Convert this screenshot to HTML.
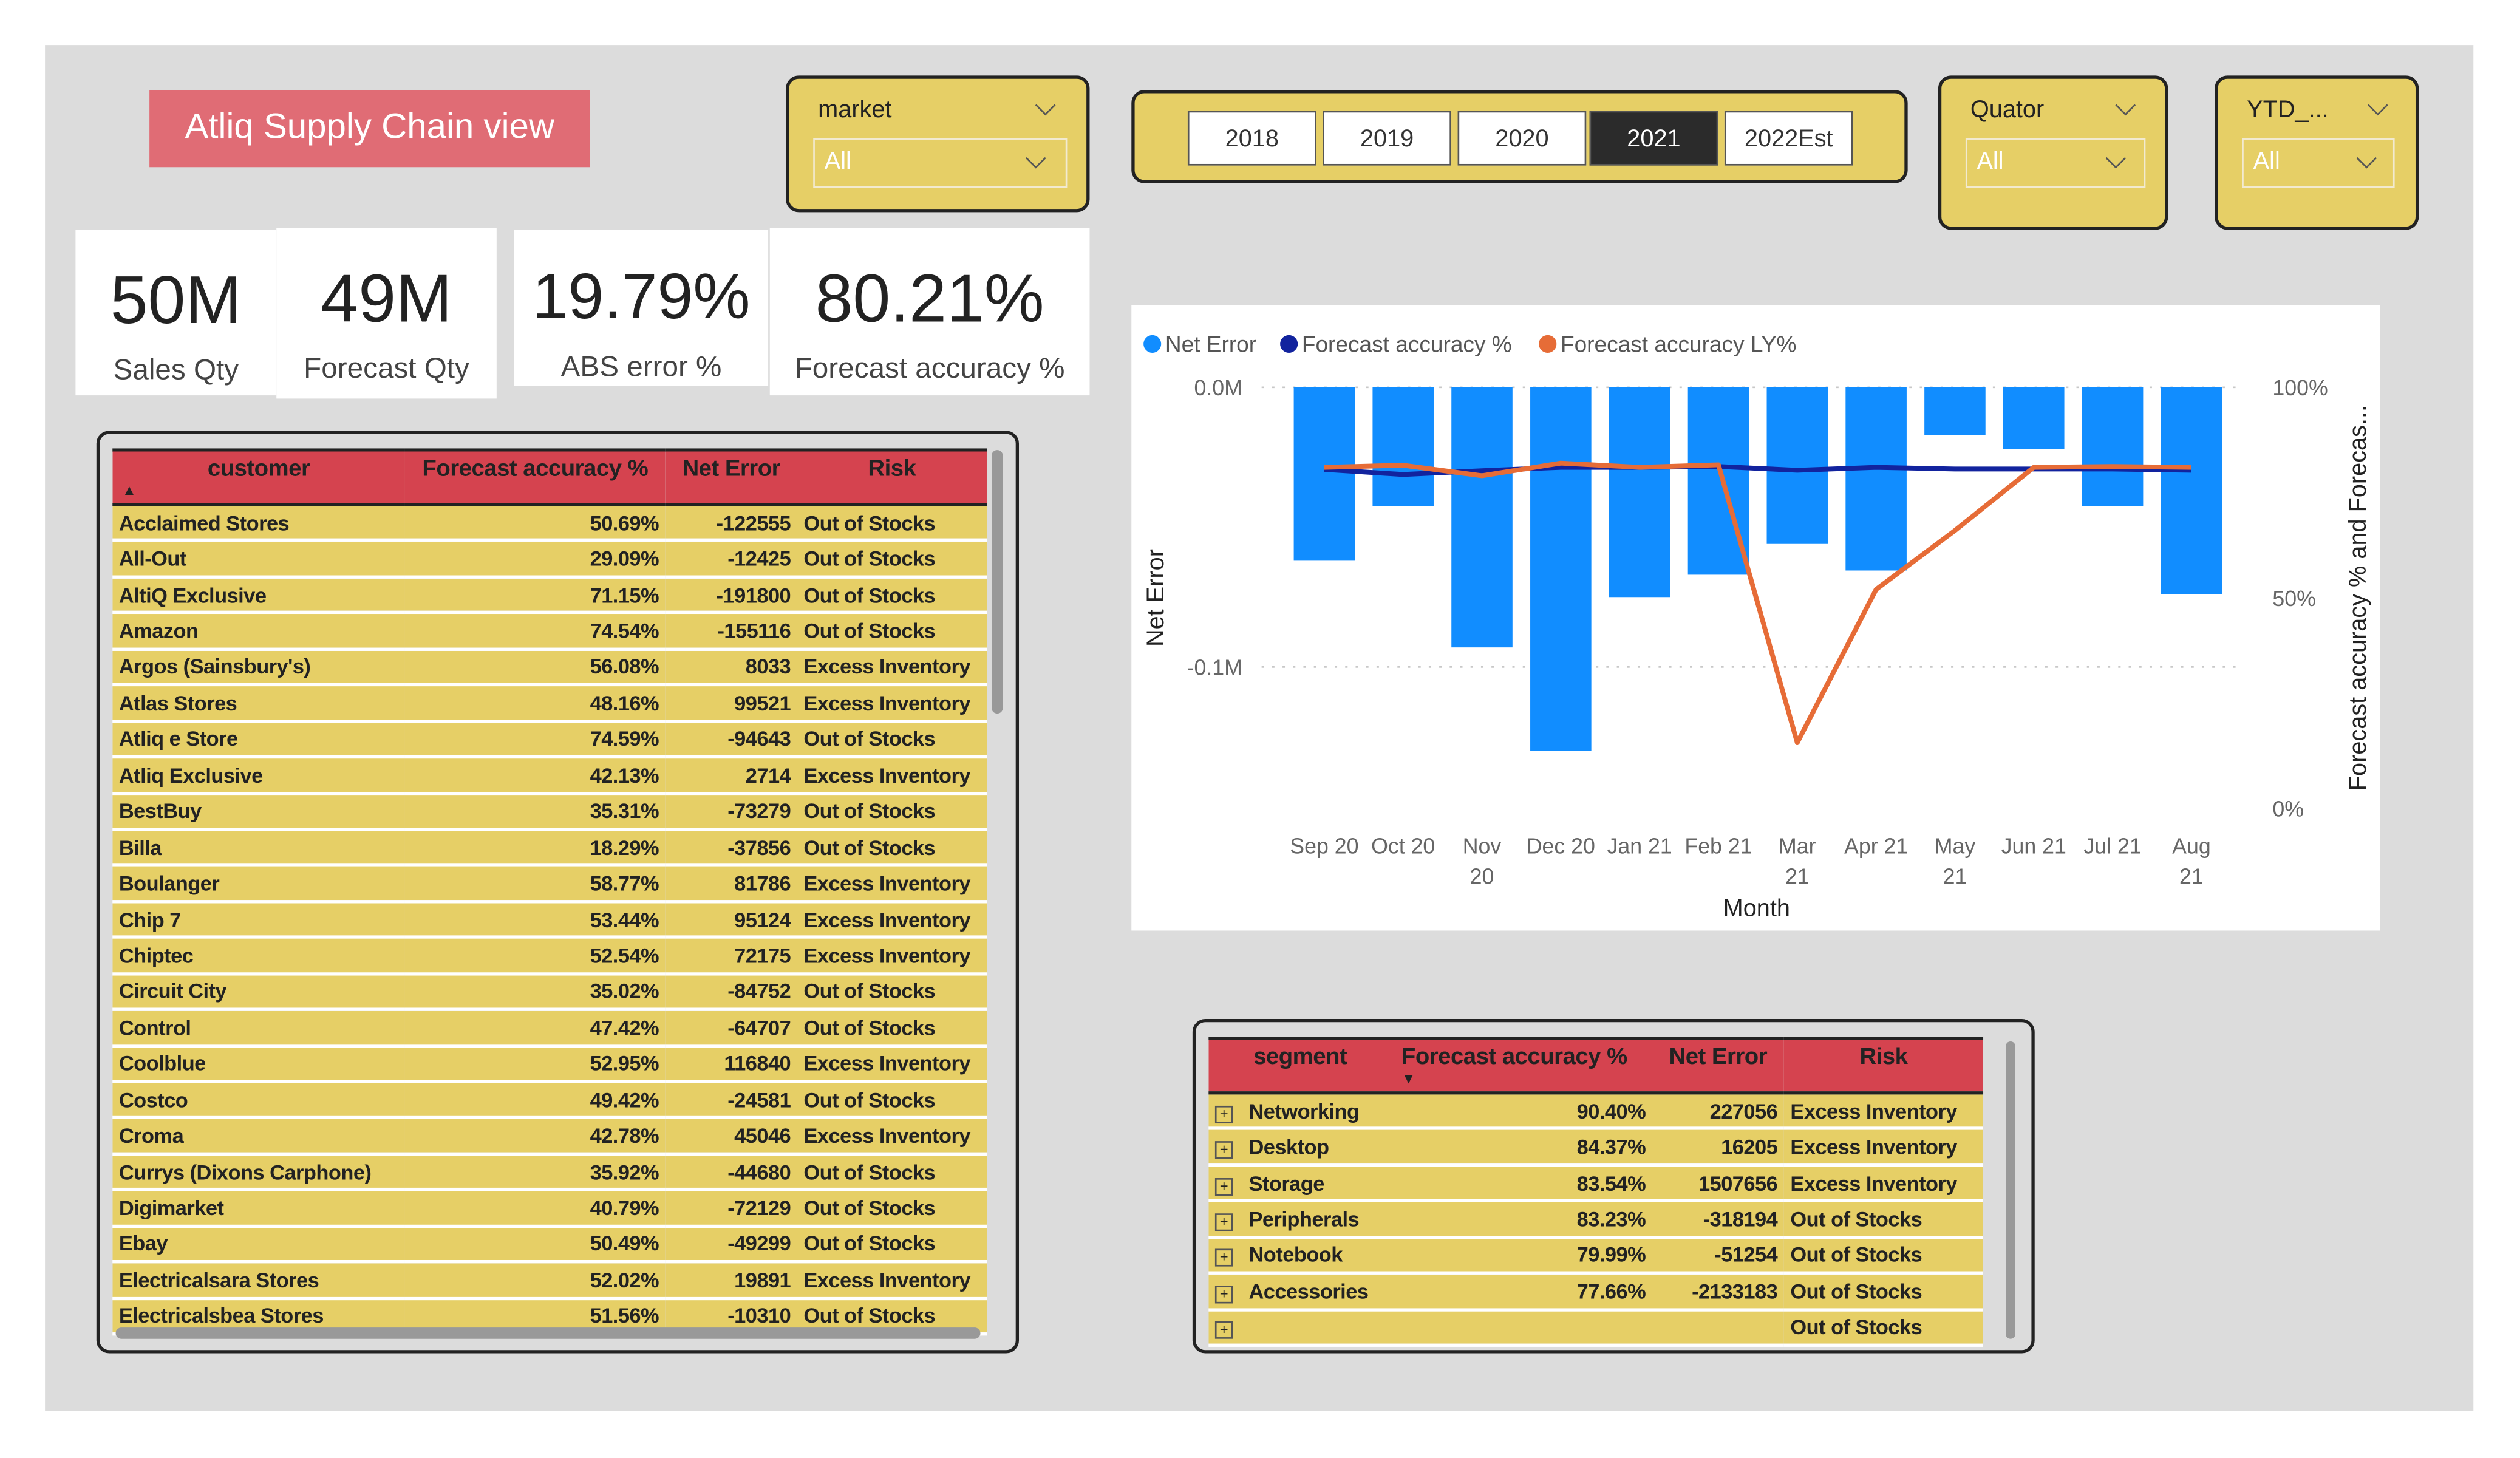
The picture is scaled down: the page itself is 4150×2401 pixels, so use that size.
<!DOCTYPE html>
<html><head><meta charset="utf-8">
<style>
html,body{margin:0;padding:0;width:4150px;height:2400px;overflow:hidden;background:#fff;font-family:"Liberation Sans",sans-serif;}
#wrap{position:absolute;left:0;top:0;width:1568px;height:907px;transform:scale(2.6467);transform-origin:0 0;}
.abs{position:absolute;box-sizing:border-box;}
.slicer{background:#e6cf66;border:2px solid #222;border-radius:8px;}
.dd{position:absolute;border:1.5px solid #f2ead0;color:#fff;font-size:15px;box-sizing:border-box;padding-left:6px;line-height:28px;}
.chev{position:absolute;width:8px;height:8px;border-right:1.5px solid #555;border-bottom:1.5px solid #555;transform:rotate(45deg);}
.kpi{background:#fff;text-align:center;}
.kv{font-size:42px;color:#222;position:absolute;left:0;right:0;top:20px;}
.kl{font-size:18px;color:#444;position:absolute;left:0;right:0;top:77px;}
.yr{position:absolute;top:69px;height:34px;width:80px;background:#fff;border:1.5px solid #555;box-sizing:border-box;text-align:center;line-height:34px;font-size:15px;color:#333;}
.tbox{background:#dcdcdc;border:2px solid #222;border-radius:8px;}
table{border-collapse:collapse;table-layout:fixed;font-size:13px;font-weight:bold;color:#222;letter-spacing:-0.2px;}
td{background:#e6cf66;height:20.45px;padding:0 4px;border-bottom:2px solid #fff;white-space:nowrap;overflow:hidden;}
th{background:#d5434f;height:28px;font-size:14.5px;border-top:2px solid #222;border-bottom:2px solid #222;vertical-align:top;padding-top:3px;white-space:nowrap;position:relative;}
.r{text-align:right;}
</style></head><body>
<div id="wrap">
<div class="abs" style="left:28px;top:28px;width:1511px;height:850px;background:#dcdcdc;"></div>
<div class="abs" style="left:93px;top:56px;width:274px;height:48px;background:#e06c75;color:#fff;font-size:22px;text-align:center;line-height:46px;">Atliq Supply Chain view</div>

<div class="abs slicer" style="left:489px;top:47px;width:189px;height:85px;">
 <div class="abs" style="left:18px;top:11px;font-size:15px;color:#222;">market</div>
 <div class="chev" style="left:155px;top:12px;"></div>
 <div class="dd" style="left:15px;top:37px;width:158px;height:31px;">All<div class="chev" style="left:133px;top:7px;"></div></div>
</div>

<div class="abs slicer" style="left:704px;top:56px;width:483px;height:58px;"></div>
<div class="yr" style="left:739px;">2018</div>
<div class="yr" style="left:823px;">2019</div>
<div class="yr" style="left:907px;">2020</div>
<div class="yr" style="left:989px;background:#2b2b2b;color:#fff;">2021</div>
<div class="yr" style="left:1073px;">2022Est</div>

<div class="abs slicer" style="left:1206px;top:47px;width:143px;height:96px;">
 <div class="abs" style="left:18px;top:11px;font-size:15px;color:#222;">Quator</div>
 <div class="chev" style="left:110px;top:12px;"></div>
 <div class="dd" style="left:15px;top:37px;width:112px;height:31px;">All<div class="chev" style="left:88px;top:7px;"></div></div>
</div>
<div class="abs slicer" style="left:1378px;top:47px;width:127px;height:96px;">
 <div class="abs" style="left:18px;top:11px;font-size:15px;color:#222;">YTD_...</div>
 <div class="chev" style="left:95px;top:12px;"></div>
 <div class="dd" style="left:15px;top:37px;width:95px;height:31px;">All<div class="chev" style="left:72px;top:7px;"></div></div>
</div>

<div class="abs kpi" style="left:47px;top:143px;width:125px;height:103px;"><div class="kv">50M</div><div class="kl">Sales Qty</div></div>
<div class="abs kpi" style="left:172px;top:142px;width:137px;height:106px;"><div class="kv">49M</div><div class="kl">Forecast Qty</div></div>
<div class="abs kpi" style="left:320px;top:143px;width:158px;height:97px;"><div class="kv" style="font-size:40px">19.79%</div><div class="kl" style="top:75px">ABS error %</div></div>
<div class="abs kpi" style="left:479px;top:142px;width:199px;height:104px;"><div class="kv">80.21%</div><div class="kl">Forecast accuracy %</div></div>

<div class="abs tbox" style="left:60px;top:268px;width:574px;height:574px;overflow:hidden;">
 <table id="ct" style="position:absolute;left:8px;top:9px;width:544px;">
  <colgroup><col style="width:182px"><col style="width:162px"><col style="width:82px"><col style="width:118px"></colgroup>
  <thead><tr><th>customer<span style="position:absolute;left:6px;top:19px;font-size:9px;">▲</span></th><th>Forecast accuracy %</th><th>Net Error</th><th>Risk</th></tr></thead>
  <tbody id="cb"></tbody>
 </table>
 <div class="abs" style="left:555px;top:10px;width:7px;height:164px;background:#999;border-radius:4px;"></div>
 <div class="abs" style="left:10px;top:556px;width:538px;height:7px;background:#999;border-radius:4px;"></div>
</div>

<div class="abs tbox" style="left:742px;top:634px;width:524px;height:208px;overflow:hidden;">
 <table id="st" style="position:absolute;left:8px;top:9px;width:482px;">
  <colgroup><col style="width:114px"><col style="width:162px"><col style="width:82px"><col style="width:124px"></colgroup>
  <thead><tr><th>segment</th><th style="text-align:left;padding-left:6px;">Forecast accuracy %<span style="position:absolute;left:6px;top:19px;font-size:9px;">▼</span></th><th>Net Error</th><th>Risk</th></tr></thead>
  <tbody id="sb"></tbody>
 </table>
 <div class="abs" style="left:504px;top:12px;width:6px;height:185px;background:#999;border-radius:3px;"></div>
</div>

<div class="abs" style="left:704px;top:190px;width:777px;height:389px;background:#fff;"></div>
<svg id="chart" class="abs" style="left:0;top:0;" width="1568" height="907"></svg>
</div>

<script>
const customers=["Acclaimed Stores","All-Out","AltiQ Exclusive","Amazon","Argos (Sainsbury's)","Atlas Stores","Atliq e Store","Atliq Exclusive","BestBuy","Billa","Boulanger","Chip 7","Chiptec","Circuit City","Control","Coolblue","Costco","Croma","Currys (Dixons Carphone)","Digimarket","Ebay","Electricalsara Stores","Electricalsbea Stores"];
const custAcc=["50.69%","29.09%","71.15%","74.54%","56.08%","48.16%","74.59%","42.13%","35.31%","18.29%","58.77%","53.44%","52.54%","35.02%","47.42%","52.95%","49.42%","42.78%","35.92%","40.79%","50.49%","52.02%","51.56%"];
const custNet=["-122555","-12425","-191800","-155116","8033","99521","-94643","2714","-73279","-37856","81786","95124","72175","-84752","-64707","116840","-24581","45046","-44680","-72129","-49299","19891","-10310"];
const custRisk=["Out of Stocks","Out of Stocks","Out of Stocks","Out of Stocks","Excess Inventory","Excess Inventory","Out of Stocks","Excess Inventory","Out of Stocks","Out of Stocks","Excess Inventory","Excess Inventory","Excess Inventory","Out of Stocks","Out of Stocks","Excess Inventory","Out of Stocks","Excess Inventory","Out of Stocks","Out of Stocks","Out of Stocks","Excess Inventory","Out of Stocks"];
const segments=["Networking","Desktop","Storage","Peripherals","Notebook","Accessories",""];
const segAcc=["90.40%","84.37%","83.54%","83.23%","79.99%","77.66%",""];
const segNet=["227056","16205","1507656","-318194","-51254","-2133183",""];
const segRisk=["Excess Inventory","Excess Inventory","Excess Inventory","Out of Stocks","Out of Stocks","Out of Stocks","Out of Stocks"];

const cb=document.getElementById('cb');
customers.forEach((c,i)=>{
  const tr=document.createElement('tr');
  
  
  tr.innerHTML='<td>'+c+'</td><td class="r">'+custAcc[i]+'</td><td class="r">'+custNet[i]+'</td><td>'+custRisk[i]+'</td>';
  cb.appendChild(tr);
});
const sb=document.getElementById('sb');
segments.forEach((c,i)=>{
  const tr=document.createElement('tr');
  
  
  tr.innerHTML='<td><span style="display:inline-block;width:9px;height:9px;border:1px solid #555;font-size:9px;line-height:8px;text-align:center;margin-right:10px;font-weight:normal;">+</span>'+c+'</td><td class="r">'+segAcc[i]+'</td><td class="r">'+segNet[i]+'</td><td>'+segRisk[i]+'</td>';
  sb.appendChild(tr);
});

// chart data
const months=[["Sep 20"],["Oct 20"],["Nov","20"],["Dec 20"],["Jan 21"],["Feb 21"],["Mar","21"],["Apr 21"],["May","21"],["Jun 21"],["Jul 21"],["Aug","21"]];
const netError=[-62000,-42500,-93000,-130000,-75000,-67000,-56000,-65500,-17000,-22000,-42500,-74000];
const faPct=[80.5,79.3,80.2,81,81,81.2,80.3,81,80.6,80.6,80.6,80.3];
const faLyPct=[81,81.5,79,82,81,81.6,15.6,52,66,81,81.2,81];
const leftTicks=[0,-100000];
const leftTickLabels=["0.0M","-0.1M"];
const rightTicks=[100,50,0];
const rightTickLabels=["100%","50%","0%"];

const svg=document.getElementById('chart');
const NS='http://www.w3.org/2000/svg';
const x0=824,dx=49.05;
const xPos=i=>x0+i*dx;
const yLeft=v=>241+(-v)*174/100000;
const yRight=p=>503-p*262/100;
function mk(tag,attrs,text){const e=document.createElementNS(NS,tag);for(const k in attrs)e.setAttribute(k,attrs[k]);if(text!==undefined)e.textContent=text;svg.appendChild(e);return e;}
const tf='font-family:"Liberation Sans",sans-serif;';
leftTicks.forEach((v,i)=>{
  const g=mk('line',{x1:785,x2:1395,y1:yLeft(v),y2:yLeft(v),stroke:'#c8c8c8','stroke-dasharray':'1.5 5','stroke-width':1});
  
  
  const t=mk('text',{x:773,y:yLeft(v)+5,'text-anchor':'end','font-size':13.5,fill:'#666',style:tf},leftTickLabels[i]);
  
  
});
rightTicks.forEach((v,i)=>{
  const t=mk('text',{x:1414,y:yRight(v)+5,'font-size':13.5,fill:'#666',style:tf},rightTickLabels[i]);
  
  
});
netError.forEach((v,i)=>{
  const b=mk('rect',{x:xPos(i)-19,y:yLeft(0),width:38,height:yLeft(v)-yLeft(0),fill:'#118dff'});
  
  
});
function line(arr,color,name){
  const p=mk('polyline',{points:arr.map((v,i)=>xPos(i)+','+yRight(v)).join(' '),fill:'none',stroke:color,'stroke-width':3,'stroke-linejoin':'round'});
  
  
}
line(faPct,'#12239e','forecast-accuracy-line');
line(faLyPct,'#e66c37','forecast-accuracy-ly-line');
months.forEach((m,i)=>{
  m.forEach((s,j)=>{
    const t=mk('text',{x:xPos(i),y:531+j*19,'text-anchor':'middle','font-size':13.5,fill:'#666',style:tf},s);
    
    
  });
});
let t=mk('text',{x:1093,y:570,'text-anchor':'middle','font-size':15,fill:'#222',style:tf},'Month');


t=mk('text',{x:0,y:0,'text-anchor':'middle','font-size':15,fill:'#222',style:tf,transform:'translate(724,372) rotate(-90)'},'Net Error');


t=mk('text',{x:0,y:0,'text-anchor':'middle','font-size':15,fill:'#222',style:tf,transform:'translate(1472,372) rotate(-90)'},'Forecast accuracy % and Forecas...');


const leg=[["Net Error","#118dff",717],["Forecast accuracy %","#12239e",802],["Forecast accuracy LY%","#e66c37",963]];
leg.forEach(l=>{
  const c=mk('circle',{cx:l[2],cy:214,r:5.5,fill:l[1]});
  
  
  const tx=mk('text',{x:l[2]+8,y:219,'font-size':14,fill:'#555',style:tf},l[0]);
  
  
});
</script>
</body></html>
